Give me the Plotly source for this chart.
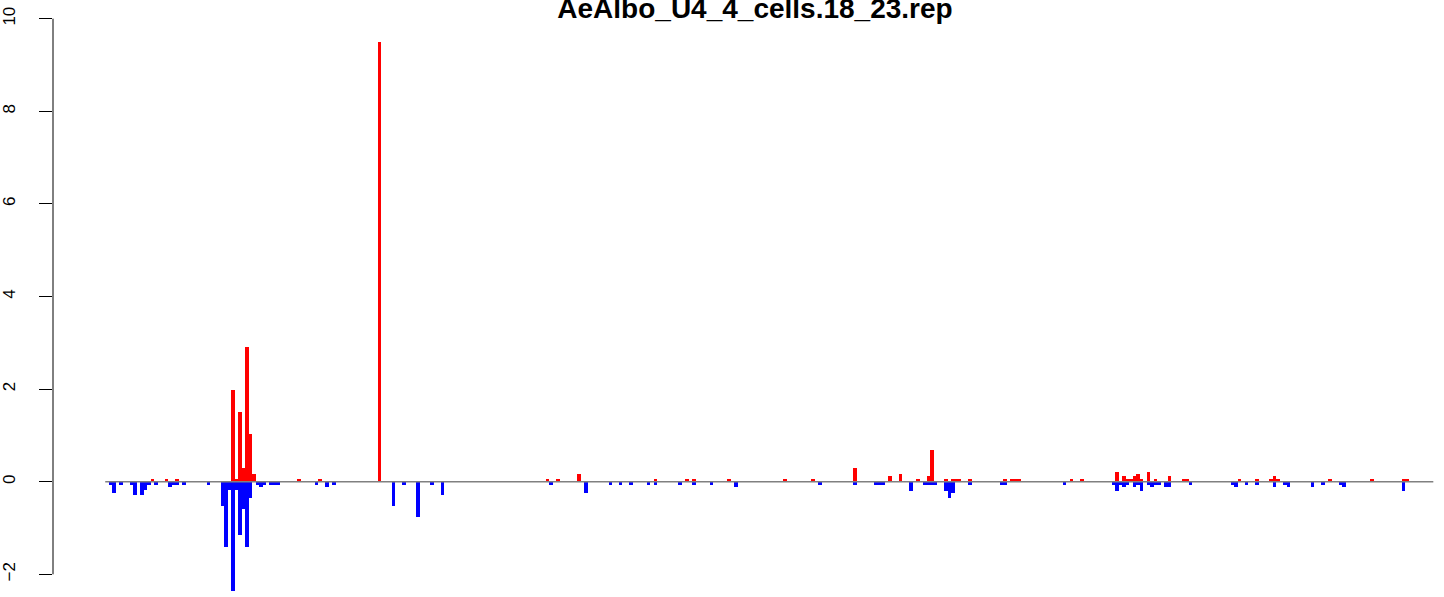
import plotly.graph_objects as go

n_positions = 380

red_pos = [14, 18, 21, 37, 38, 39, 40, 41, 42, 43, 56, 62, 79, 127, 130, 136, 158, 167,
           169, 179, 195, 203, 215, 225, 228, 233, 236, 237, 241, 243, 244, 245, 248,
           258, 260, 261, 262, 277, 280, 290, 292, 293, 294, 295, 296, 297, 299, 301,
           305, 309, 310, 325, 330, 334, 335, 336, 351, 363, 372, 373]
red_val = [0.05, 0.05, 0.05, 1.97, 0.06, 1.51, 0.30, 2.90, 1.03, 0.17, 0.05, 0.05, 9.50,
           0.05, 0.05, 0.16, 0.05, 0.05, 0.05, 0.05, 0.05, 0.05, 0.29, 0.12, 0.16, 0.05,
           0.12, 0.68, 0.05, 0.05, 0.05, 0.05, 0.05, 0.05, 0.05, 0.05, 0.05, 0.05, 0.05,
           0.22, 0.12, 0.05, 0.05, 0.12, 0.16, 0.05, 0.22, 0.05, 0.12, 0.05, 0.05, 0.05,
           0.05, 0.05, 0.12, 0.05, 0.05, 0.05, 0.05, 0.05]

blue_pos = [2, 3, 5, 8, 9, 11, 12, 13, 15, 19, 20, 21, 23, 30, 34, 35, 36, 37, 38, 39, 40,
            41, 42, 44, 45, 46, 48, 49, 50, 61, 64, 66, 83, 86, 90, 94, 97, 128, 138, 145,
            148, 151, 156, 158, 165, 169, 174, 181, 205, 215, 221, 222, 223, 231, 235,
            236, 237, 238, 241, 242, 243, 248, 257, 258, 275, 289, 290, 291, 292, 293,
            295, 296, 297, 299, 300, 301, 302, 304, 305, 311, 323, 324, 327, 330, 335,
            338, 339, 346, 349, 354, 355, 372]
blue_val = [-0.07, -0.25, -0.07, -0.07, -0.29, -0.29, -0.17, -0.07, -0.07, -0.12, -0.07,
            -0.07, -0.07, -0.07, -0.52, -1.40, -0.18, -2.37, -0.18, -1.16, -0.59, -1.40,
            -0.35, -0.07, -0.12, -0.07, -0.07, -0.07, -0.07, -0.07, -0.12, -0.07, -0.53,
            -0.07, -0.77, -0.07, -0.29, -0.07, -0.25, -0.07, -0.07, -0.07, -0.07, -0.07,
            -0.07, -0.07, -0.07, -0.12, -0.07, -0.07, -0.07, -0.07, -0.07, -0.19, -0.07,
            -0.07, -0.07, -0.07, -0.19, -0.36, -0.25, -0.07, -0.07, -0.07, -0.07, -0.07,
            -0.19, -0.07, -0.12, -0.07, -0.12, -0.07, -0.19, -0.07, -0.12, -0.07, -0.07,
            -0.12, -0.12, -0.07, -0.07, -0.12, -0.07, -0.07, -0.12, -0.07, -0.12, -0.12,
            -0.07, -0.07, -0.12, -0.19]

y_ticks = [-2, 0, 2, 4, 6, 8, 10]
title_text = "AeAlbo_U4_4_cells.18_23.rep"

W, H = 1444, 597
left_margin = 51
px_per_pos = 3.5
first_edge_px = 103.3
x0 = 0.5 - (first_edge_px - left_margin) / px_per_pos
x1 = x0 + (W - left_margin) / px_per_pos

zero_px = 481.7
px_per_unit = 46.3
y_top = zero_px / px_per_unit
y_bot = -(H - zero_px) / px_per_unit

font_family = "Liberation Sans, Arial, Helvetica, sans-serif"

fig = go.Figure()
fig.add_trace(go.Bar(x=red_pos, y=red_val, width=1, marker=dict(color="#FF0000", line=dict(width=0)),
                     showlegend=False, hoverinfo="x+y"))
fig.add_trace(go.Bar(x=blue_pos, y=blue_val, width=1, marker=dict(color="#0000FF", line=dict(width=0)),
                     showlegend=False, hoverinfo="x+y"))

fig.add_shape(type="line", xref="x", yref="y", x0=0.5, x1=n_positions + 0.5, y0=0, y1=0,
              line=dict(color="#808080", width=1.5), layer="above")
fig.add_shape(type="line", xref="paper", yref="y", x0=0, x1=0, y0=y_ticks[0], y1=y_ticks[-1],
              line=dict(color="black", width=1), layer="above")

fig.update_layout(
    width=W, height=H,
    margin=dict(l=left_margin, r=0, t=0, b=0),
    paper_bgcolor="white", plot_bgcolor="white",
    barmode="overlay", bargap=0,
    title=dict(text="<b>" + title_text + "</b>", x=755 / W, xanchor="center",
               xref="container", yref="container", y=1 - 8 / H, yanchor="middle",
               font=dict(family=font_family, size=28, color="black")),
    xaxis=dict(range=[x0, x1], visible=False, showgrid=False, zeroline=False),
    yaxis=dict(range=[y_bot, y_top], tickvals=y_ticks,
               ticktext=[str(v).replace("-", "\u2212") for v in y_ticks],
               ticks="outside", ticklen=13, tickwidth=1, tickcolor="black",
               tickangle=-90, ticklabelstandoff=17,
               tickfont=dict(family=font_family, size=17, color="black"),
               showgrid=False, zeroline=False, showline=False),
)

fig.write_html("out.html", config={"displayModeBar": False},
               post_script="document.body.style.margin='0';document.body.style.overflow='hidden';")
